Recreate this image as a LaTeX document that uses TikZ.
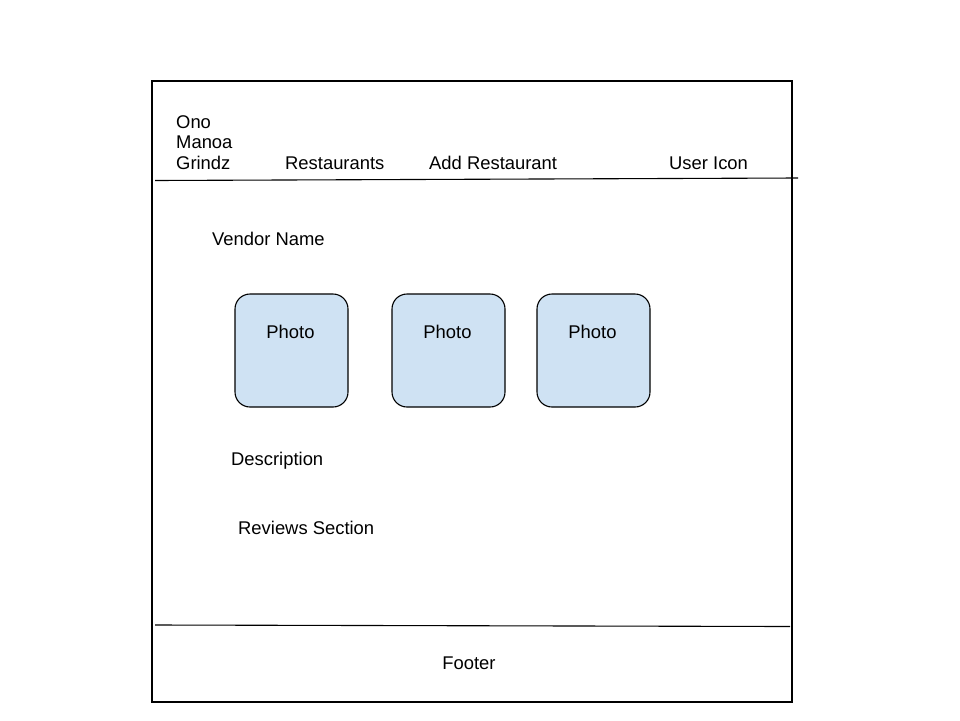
\documentclass[tikz,border=0pt]{standalone}
\usepackage{fontspec}
\setmainfont{Liberation Sans}
\usepackage{tikz}
\usetikzlibrary{positioning,calc}
\usepackage{xcolor}
\definecolor{photoblue}{HTML}{CFE2F3}

\begin{document}
\begin{tikzpicture}[x=1pt,y=-1pt,
    txt/.style={anchor=base west, inner sep=0pt, font=\fontsize{18.4}{20.5}\selectfont},
    photobox/.style={draw, line width=1.1pt, fill=photoblue, rounded corners=15pt,
        minimum width=113pt, minimum height=113pt, inner sep=0pt}]
    \useasboundingbox (0,0) rectangle (960,720);

    % Page frame
    \draw[line width=1.2pt] (152,81) rectangle (792,702);

    % Header
    \node[txt, align=left] (logo) at (176,169.3) {Ono\\Manoa\\Grindz};
    \node[txt] (restaurants) at (285,169) {Restaurants};
    \node[txt] (addrest) at (429,169) {Add Restaurant};
    \node[txt] (usericon) at (669,169) {User Icon};
    \draw[line width=1.1pt] (155,180.5) -- (798,178);

    % Vendor info
    \node[txt] (vendor) at (212,245) {Vendor Name};

    % Photos
    \foreach \x/\n in {291.5/1,448.5/2,593.5/3} {
        \node[photobox] (photo\n) at (\x,350.5) {};
        \path (photo\n.north) ++(-1,45) node[txt, anchor=base] (ptext\n) {Photo};
    }

    \node[txt] (descr) at (231,465.5) {Description};
    \node[txt] (reviews) at (238,534.5) {Reviews Section};

    % Footer
    \draw[line width=1.1pt] (155,625) -- (790,626.5);
    \node[txt, anchor=base] (footer) at (469,669.5) {Footer};
\end{tikzpicture}
\end{document}
